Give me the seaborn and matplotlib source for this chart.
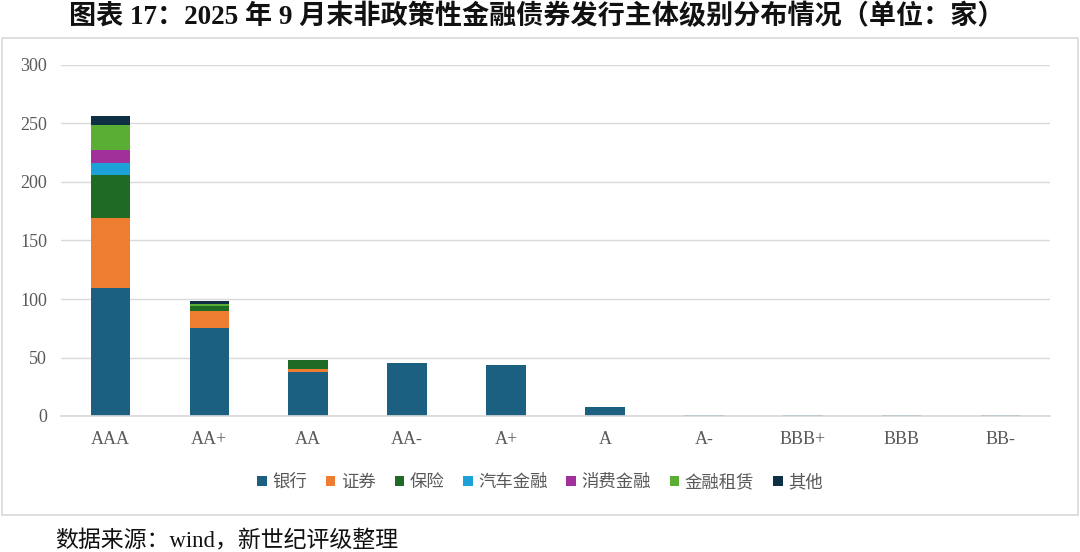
import matplotlib
matplotlib.use("Agg")
from matplotlib import pyplot as plt
from matplotlib.patches import Patch, Rectangle
import seaborn as sns
import pandas as pd

# ratings on the x axis
ratings = ["AAA", "AA+", "AA", "AA-", "A+", "A", "A-", "BBB+", "BBB", "BB-"]

# issuer counts per type
bank = [109, 75, 38, 45, 44, 8, 1, 1, 1, 1]
securities = [60, 15, 2, 0, 0, 0, 0, 0, 0, 0]
insurance = [37, 4, 8, 0, 0, 0, 0, 0, 0, 0]
auto_fin = [10, 0, 0, 0, 0, 0, 0, 0, 0, 0]
consumer_fin = [11, 0, 0, 0, 0, 0, 0, 0, 0, 0]
leasing = [22, 2, 0, 0, 0, 0, 0, 0, 0, 0]
other = [7, 2, 0, 0, 0, 0, 0, 0, 0, 0]

series_names = ["银行", "证券", "保险", "汽车金融", "消费金融", "金融租赁", "其他"]
series_values = [bank, securities, insurance, auto_fin, consumer_fin, leasing, other]
colors = ["#1B5F81", "#ED7D31", "#1E6B24", "#1DA1D9", "#A2309B", "#5BAE34", "#0E2F44"]

rows = []
for name, vals in zip(series_names, series_values):
    for r, v in zip(ratings, vals):
        rows.append({"rating": r, "type": name, "count": v})
df = pd.DataFrame(rows)
df["pos"] = df["rating"].map({r: i for i, r in enumerate(ratings)})

sns.set_theme(style="white")
plt.rcParams["font.family"] = ["Liberation Serif", "Noto Sans CJK SC", "DejaVu Sans"]

fig = plt.figure(figsize=(10.8, 5.52), dpi=100)
ax = fig.add_axes([61 / 1080, 1 - 416 / 552, 989 / 1080, 351 / 552])

# seaborn stacks the first hue level on top, so feed the order reversed
sns.histplot(data=df, x="pos", hue="type", weights="count", multiple="stack",
             discrete=True, shrink=0.4, hue_order=series_names[::-1],
             palette=dict(zip(series_names, colors)), alpha=1, linewidth=0,
             legend=False, ax=ax)

ax.set_xlim(-0.5, len(ratings) - 0.5)
ax.set_ylim(0, 300)
ax.set_yticks(range(0, 301, 50))
ax.set_xticks(range(len(ratings)))
ax.set_xticklabels(ratings)
ax.set_xlabel("")
ax.set_ylabel("")
ax.yaxis.grid(True, color="#D9D9D9", linewidth=1)
ax.set_axisbelow(True)
for s in ["top", "right", "left"]:
    ax.spines[s].set_visible(False)
ax.spines["bottom"].set_color("#D9D9D9")
ax.tick_params(axis="both", length=0, labelsize=13, colors="#595959")
ax.tick_params(axis="y", pad=10)
ax.tick_params(axis="x", pad=11)

# chart frame
fig.patches.append(Rectangle((2 / 1080, 1 - 515 / 552), 1076 / 1080, 477 / 552,
                             transform=fig.transFigure, fill=False,
                             edgecolor="#D9D9D9", linewidth=1.2))

handles = [Patch(facecolor=c, edgecolor="none") for c in colors]
fig.legend(handles, series_names, loc="center", bbox_to_anchor=(0.5, 1 - 482 / 552),
           ncol=7, frameon=False, handlelength=0.55, handleheight=0.55,
           handletextpad=0.3, columnspacing=1.1,
           prop={"family": ["Noto Sans CJK SC"], "size": 12.5}, labelcolor="#595959")

fig.text(0.497, 1 - 17 / 552, "图表 17：2025 年 9 月末非政策性金融债券发行主体级别分布情况（单位：家）",
         ha="center", va="center", fontsize=19.5, fontweight="bold", color="#111111")
fig.text(55 / 1080, 1 - 541 / 552, "数据来源：wind，新世纪评级整理",
         ha="left", va="center", fontsize=16.5, color="#111111")

fig.savefig("out.png", dpi=100)
